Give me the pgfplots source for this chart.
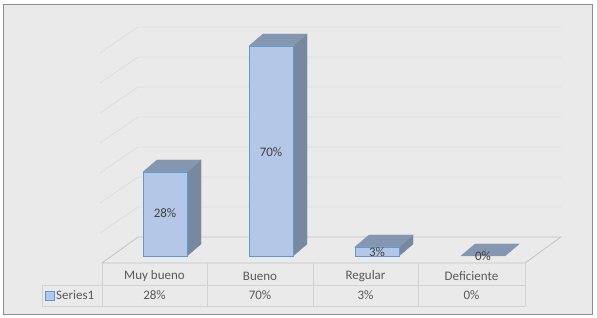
\documentclass[border=0pt]{standalone}
\usepackage{pgfplots}
\pgfplotsset{compat=1.18}
\usepackage{fontspec}
\setmainfont{Carlito}
\definecolor{bg}{HTML}{EAEAEA}
\definecolor{gridc}{HTML}{DDDDDD}
\definecolor{floorc}{HTML}{C4C4C4}
\definecolor{tabc}{HTML}{D2D2D2}
\definecolor{frontc}{HTML}{B4C7E7}
\definecolor{topc}{HTML}{8596B0}
\definecolor{sidec}{HTML}{77889F}
\definecolor{edgec}{HTML}{5B9BD5}
\definecolor{txt}{HTML}{595959}
\definecolor{lbl}{HTML}{404040}
\begin{document}
\begin{tikzpicture}
\begin{scope}[shift={(0pt,318pt)},x=1pt,y=-1pt]
  \fill[white] (0,0) rectangle (597,318);
  \filldraw[fill=bg, draw=black!45, line width=0.8pt] (3,4) rectangle (592,314);
  % back wall and side wall gridlines
  \foreach \k in {1,...,7} {
    \draw[gridc, line width=0.8pt] (100,{263-30*\k}) -- (138,{237-30*\k}) -- (561,{237-30*\k});
  }
  % floor
  \draw[floorc, line width=0.8pt] (102,263) -- (138,237) -- (561,237) -- (525,263) -- cycle;
  % data table
  \draw[tabc, line width=0.7pt] (42,285) -- (525,285);
  \draw[tabc, line width=0.7pt] (42,306) -- (525,306);
  \foreach \xx in {102,207,313,418,525} {\draw[tabc, line width=0.7pt] (\xx,263) -- (\xx,306);}
  \draw[tabc, line width=0.7pt] (42,285) -- (42,306);
  \begin{scope}[font=\fontsize{13}{15}\selectfont, text=txt]
    \node at (154.5,276) {Muy bueno};
    \node at (260,276) {Bueno};
    \node at (365.5,276) {Regular};
    \node at (471.5,276) {Deficiente};
    \node at (154.5,295.5) {28\%};
    \node at (260,295.5) {70\%};
    \node at (365.5,295.5) {3\%};
    \node at (471.5,295.5) {0\%};
    \filldraw[fill=frontc, draw=edgec, line width=0.6pt] (45,291) rectangle (54,300);
    \node[anchor=west, inner sep=0pt] at (56,295.5) {Series1};
  \end{scope}
\end{scope}
\begin{axis}[
  at={(0pt,0pt)}, anchor=south west,
  scale only axis,
  x=106pt, y=300pt,
  xmin=-1.556604, xmax=4.075472,
  ymin=-0.206667, ymax=0.853333,
  hide axis, clip=false,
]
% side faces
\addplot[fill=sidec, draw=sidec, line width=0.4pt] coordinates {(0.2075,0) (0.3396,0.04) (0.3396,0.32) (0.2075,0.28)} -- cycle;
\addplot[fill=sidec, draw=sidec, line width=0.4pt] coordinates {(1.2075,0) (1.3396,0.04) (1.3396,0.74) (1.2075,0.70)} -- cycle;
\addplot[fill=sidec, draw=sidec, line width=0.4pt] coordinates {(2.2075,0) (2.3396,0.04) (2.3396,0.07) (2.2075,0.03)} -- cycle;
% top faces
\addplot[fill=topc, draw=topc, line width=0.4pt] coordinates {(-0.2075,0.28) (0.2075,0.28) (0.3396,0.32) (-0.0754,0.32)} -- cycle;
\addplot[fill=topc, draw=topc, line width=0.4pt] coordinates {(0.7925,0.70) (1.2075,0.70) (1.3396,0.74) (0.9246,0.74)} -- cycle;
\addplot[fill=topc, draw=topc, line width=0.4pt] coordinates {(1.7925,0.03) (2.2075,0.03) (2.3396,0.07) (1.9246,0.07)} -- cycle;
\addplot[fill=topc, draw=topc, line width=0.4pt] coordinates {(2.7925,0) (3.2075,0) (3.3396,0.04) (2.9246,0.04)} -- cycle;
% front faces
\addplot[ybar, bar width=44pt, fill=frontc, draw=edgec, line width=0.7pt]
  coordinates {(0,0.28) (1,0.70) (2,0.03)};
% data labels
\addplot[draw=none, mark=none, nodes near coords, point meta=explicit symbolic,
  nodes near coords align=center,
  every node near coord/.append style={font=\fontsize{13}{15}\selectfont, text=lbl, anchor=center}]
  coordinates {(0,0.143)[28\%] (1,0.347)[70\%] (2,0.013)[3\%] (3,0.0)[0\%]};
\end{axis}
\end{tikzpicture}
\end{document}
